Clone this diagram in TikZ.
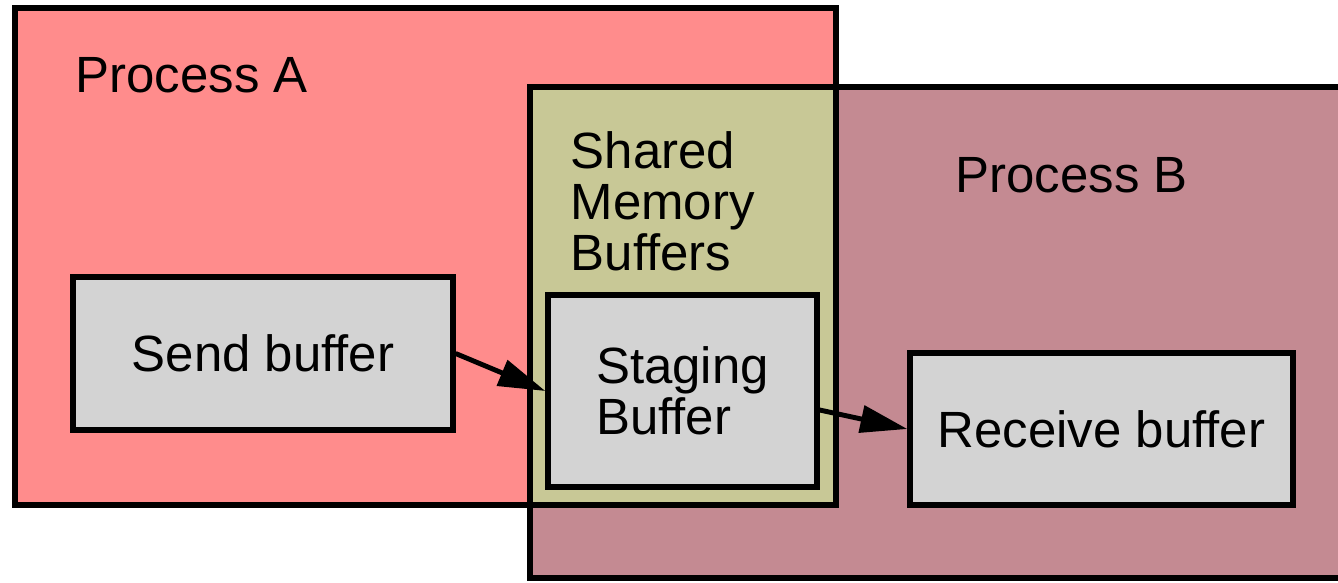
\documentclass[tikz,border=0pt]{standalone}
\usepackage{fontspec}
\setmainfont{Liberation Sans}
\usetikzlibrary{arrows.meta}
\usepackage{xcolor}
\definecolor{procpink}{RGB}{255,140,140}
\definecolor{procmauve}{RGB}{196,138,146}
\definecolor{shmolive}{RGB}{200,200,150}
\definecolor{bufgrey}{RGB}{211,211,211}

\begin{document}
\begin{tikzpicture}[
  label/.style={font=\fontsize{14.5}{14.5}\selectfont, inner sep=0pt},
  buffer/.style={draw, line width=1.5pt, fill=bufgrey, inner sep=0pt,
    font=\fontsize{14.5}{14.5}\selectfont},
  flow/.style={line width=1.4pt, -{Triangle[length=0.47cm,width=0.27cm]}}]
  \clip (0,0) rectangle (13.38,5.83);
  % Process A, Process B and the shared part where they overlap
  \fill[procpink] (0.15,0.78) rectangle (8.36,5.75);
  \fill[procmauve] (5.30,0.05) rectangle (13.7,4.96);
  \fill[shmolive] (5.30,0.78) rectangle (8.36,4.96);
  \draw[line width=1.7pt] (0.15,0.78) rectangle (8.36,5.75);
  \draw[line width=1.7pt] (5.30,0.05) rectangle (13.7,4.96);
  \node[label, anchor=west] (labA) at (0.75,5.08) {Process A};
  \node[label, anchor=west] (labB) at (9.55,4.08) {Process B};
  \node[label, anchor=north west, align=left] (labS) at (5.70,4.52)
    {Shared\\Memory\\Buffers};
  % buffers
  \node[buffer, minimum width=3.80cm, minimum height=1.53cm] (send)
    at (2.63,2.295) {Send buffer};
  \node[buffer, minimum width=2.69cm, minimum height=1.92cm, align=left] (stage)
    at (6.825,1.92) {Staging\\Buffer};
  \node[buffer, minimum width=3.83cm, minimum height=1.52cm] (recv)
    at (11.015,1.54) {Receive buffer};
  % data path
  \draw[flow] (send.east) -- (stage.west);
  \draw[flow] ([yshift=-0.19cm]stage.east) -- (recv.west);
\end{tikzpicture}
\end{document}
